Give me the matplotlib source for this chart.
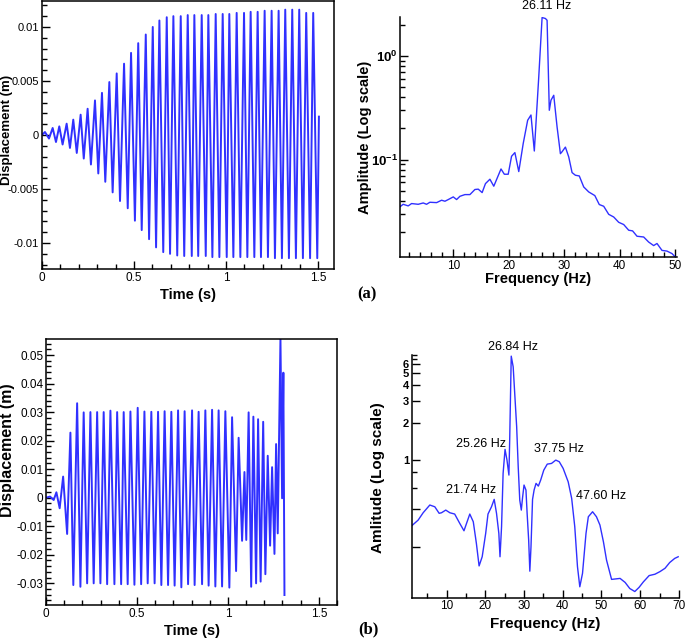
import numpy as np
import matplotlib
matplotlib.use('Agg')
import matplotlib.pyplot as plt
from matplotlib.ticker import FixedLocator, FixedFormatter, NullFormatter, MultipleLocator

plt.rcParams['font.family'] = ['Liberation Sans', 'DejaVu Sans']
plt.rcParams['axes.unicode_minus'] = False
plt.rcParams['mathtext.fontset'] = 'custom'
plt.rcParams['mathtext.rm'] = 'Liberation Sans'
plt.rcParams['mathtext.bf'] = 'Liberation Sans:bold'

line_col = '#3030ff'

# (a) displacement history: peaks and troughs
a_peak_t = [0.016, 0.058, 0.094, 0.134, 0.170, 0.210, 0.248, 0.288, 0.326, 0.366,
            0.406, 0.446, 0.484, 0.523, 0.564, 0.602, 0.638, 0.678, 0.714, 0.754,
            0.792, 0.828, 0.868, 0.904, 0.944, 0.982, 1.018, 1.058, 1.098, 1.134,
            1.172, 1.210, 1.248, 1.286, 1.322, 1.360, 1.398, 1.436, 1.474]
a_peak_v = [0.00028, 0.00065, 0.0008, 0.00105, 0.00142, 0.00188, 0.00243, 0.0032, 0.0039, 0.0049,
            0.0057, 0.0066, 0.0076, 0.0085, 0.0093, 0.0100, 0.0106, 0.0109, 0.0110, 0.0110,
            0.0111, 0.0111, 0.0111, 0.0111, 0.0112, 0.0112, 0.0112, 0.0113, 0.0113, 0.0114,
            0.0114, 0.0115, 0.0115, 0.0115, 0.0116, 0.0116, 0.0116, 0.0113, 0.0113]
a_trough_t = [0.038, 0.076, 0.112, 0.152, 0.189, 0.227, 0.266, 0.306, 0.344, 0.384,
              0.424, 0.466, 0.505, 0.542, 0.582, 0.620, 0.659, 0.696, 0.735, 0.773,
              0.814, 0.849, 0.890, 0.926, 0.964, 1.004, 1.040, 1.078, 1.116, 1.154,
              1.190, 1.228, 1.266, 1.304, 1.342, 1.380, 1.418, 1.457, 1.496]
a_trough_v = [-0.00033, -0.00065, -0.00088, -0.0012, -0.00166, -0.00218, -0.00273, -0.00356, -0.00433, -0.00531,
              -0.00611, -0.00678, -0.00793, -0.0088, -0.00964, -0.0104, -0.01084, -0.0110, -0.01115, -0.0112,
              -0.0112, -0.0112, -0.0112, -0.0113, -0.0113, -0.0113, -0.0113, -0.0113, -0.0113, -0.0113,
              -0.0113, -0.0113, -0.0114, -0.0114, -0.0114, -0.0114, -0.0114, -0.0114, -0.0114]
a_ends_t = [0.0, 1.505]
a_ends_v = [0.0, 0.0017]

# (a) FFT amplitude
fa = [0.38, 0.97, 1.88, 2.49, 3.68, 4.59, 5.19, 5.79, 7.0, 7.9,
      8.5, 9.1, 10.0, 10.6, 11.2, 12.1, 13.0, 13.9, 14.5, 15.2,
      15.8, 16.6, 17.3, 18.6, 19.2, 19.9, 20.5, 21.1, 21.8, 22.6,
      23.4, 24.0, 24.6, 25.4, 26.0, 26.6, 26.9, 27.3, 27.6, 28.1,
      28.7, 29.3, 29.6, 30.2, 30.8, 31.4, 32.0, 32.7, 33.5, 34.4,
      35.5, 36.3, 37.1, 38.0, 38.9, 39.8, 40.7, 41.6, 42.3, 43.1,
      44.3, 45.2, 46.1, 46.7, 47.6, 48.5, 49.4, 50.0]
amp_a = [0.0348, 0.0369, 0.0356, 0.0375, 0.0369, 0.0380, 0.0369, 0.0386, 0.0383, 0.0404,
         0.0395, 0.0410, 0.0435, 0.0410, 0.0441, 0.0458, 0.0458, 0.0513, 0.0517, 0.0479,
         0.0585, 0.0645, 0.0552, 0.0811, 0.0721, 0.0721, 0.1076, 0.1168, 0.0765, 0.143,
         0.240, 0.270, 0.121, 0.631, 2.37, 2.32, 2.23, 0.300, 0.375, 0.419,
         0.207, 0.114, 0.119, 0.132, 0.106, 0.0748, 0.0705, 0.0694, 0.0543, 0.0486,
         0.0448, 0.0367, 0.0353, 0.0295, 0.0278, 0.0247, 0.0235, 0.0207, 0.0204, 0.0181,
         0.0178, 0.0159, 0.0147, 0.0154, 0.0132, 0.0130, 0.0123, 0.0114]

# (b) displacement history: extrema in order
b_t = [0.0, 0.022, 0.042, 0.057, 0.075, 0.094, 0.116, 0.134, 0.150, 0.171,
       0.189, 0.207, 0.226, 0.244, 0.262, 0.281, 0.299, 0.317, 0.336, 0.354,
       0.376, 0.391, 0.413, 0.427, 0.449, 0.464, 0.486, 0.504, 0.523, 0.541,
       0.559, 0.579, 0.597, 0.616, 0.634, 0.652, 0.671, 0.689, 0.707, 0.726,
       0.744, 0.762, 0.781, 0.803, 0.817, 0.839, 0.858, 0.876, 0.894, 0.913,
       0.931, 0.949, 0.968, 0.986, 1.008, 1.023, 1.045, 1.059, 1.078, 1.091,
       1.101, 1.114, 1.128, 1.140, 1.155, 1.166, 1.180, 1.194, 1.206, 1.219,
       1.232, 1.243, 1.256, 1.265, 1.274, 1.289, 1.298, 1.305, 1.311]
b_v = [0.0, 0.0004, -0.0008, 0.0019, -0.0037, 0.0074, -0.0127, 0.0228, -0.0306, 0.0331,
       -0.0312, 0.0299, -0.030, 0.030, -0.030, 0.030, -0.030, 0.030, -0.0303, 0.0305,
       -0.0303, 0.030, -0.0303, 0.030, -0.0303, 0.0302, -0.0305, 0.0315, -0.0303, 0.0302,
       -0.030, 0.0301, -0.030, 0.0301, -0.0306, 0.0303, -0.0306, 0.0301, -0.0308, 0.0306,
       -0.0314, 0.0303, -0.0303, 0.0306, -0.0306, 0.0301, -0.0303, 0.0306, -0.0308, 0.0308,
       -0.0311, 0.0306, -0.0311, 0.0303, -0.0315, 0.0282, -0.0257, 0.021, -0.0151, 0.009,
       -0.0148, 0.0299, -0.0312, 0.0284, -0.030, 0.0275, -0.0294, 0.0266, -0.0268, 0.0147,
       -0.0168, 0.0107, -0.0197, 0.0188, -0.0125, 0.0559, -0.0002, 0.0438, -0.0341]

# (b) FFT amplitude
fb = [0.95, 2.67, 3.96, 5.68, 6.97, 8.09, 8.7, 9.8, 10.85, 12.1,
      13.4, 14.5, 16.0, 16.9, 17.7, 18.4, 19.2, 20.1, 20.7, 21.6,
      22.3, 22.9, 23.5, 23.8, 24.2, 24.6, 25.1, 25.6, 26.1, 26.3,
      26.7, 27.2, 27.6, 28.1, 28.5, 28.9, 29.3, 29.6, 30.0, 30.5,
      30.8, 31.2, 31.5, 31.8, 32.2, 32.6, 33.1, 33.7, 34.3, 35.1,
      36.0, 37.1, 38.2, 39.1, 40.1, 41.4, 42.3, 43.1, 43.8, 44.4,
      45.1, 46.0, 46.6, 47.7, 48.7, 49.6, 50.5, 51.3, 52.6, 53.7,
      54.8, 56.1, 57.3, 58.6, 59.7, 60.8, 62.3, 63.8, 65.1, 66.4,
      67.6, 68.9, 69.8]
amp_b = [0.294, 0.328, 0.376, 0.434, 0.420, 0.372, 0.376, 0.395, 0.376, 0.367,
         0.309, 0.269, 0.367, 0.318, 0.213, 0.140, 0.166, 0.256, 0.367, 0.420,
         0.482, 0.372, 0.256, 0.166, 0.290, 0.781, 1.22, 1.0, 0.757, 1.45,
         6.90, 5.66, 3.45, 1.86, 0.883, 0.476, 0.395, 0.491, 0.629, 0.573,
         0.372, 0.226, 0.127, 0.200, 0.482, 0.573, 0.649, 0.617, 0.690, 0.830,
         0.928, 0.940, 1.0, 0.970, 0.857, 0.668, 0.491, 0.290, 0.138, 0.095,
         0.122, 0.256, 0.349, 0.383, 0.349, 0.299, 0.219, 0.156, 0.109, 0.110,
         0.111, 0.103, 0.092, 0.087, 0.094, 0.104, 0.117, 0.120, 0.126, 0.134,
         0.149, 0.161, 0.166]

# peak labels (text, freq, amplitude position)
peaks_a = [('26.11 Hz', 26.9, 3.05)]
peaks_b = [('26.84 Hz', 27.2, 8.15), ('25.26 Hz', 19.0, 1.36), ('37.75 Hz', 39.1, 1.24),
           ('21.74 Hz', 16.4, 0.573), ('47.60 Hz', 50.0, 0.513)]

fig = plt.figure(figsize=(6.85, 6.38), dpi=100)

ax1 = fig.add_axes([0.0613, 0.5784, 0.4263, 0.4200])
ax2 = fig.add_axes([0.5839, 0.5972, 0.4044, 0.3762])
ax3 = fig.add_axes([0.0672, 0.0517, 0.4248, 0.4169])
ax4 = fig.add_axes([0.6010, 0.0632, 0.3902, 0.3804])


def style(ax, box=True):
    ax.tick_params(which='both', direction='in', top=False, right=False,
                   labelsize=8.5, pad=2, width=1)
    ax.tick_params(which='major', length=6)
    ax.tick_params(which='minor', length=3.5)
    for s in ax.spines.values():
        s.set_linewidth(1.1)
    if not box:
        ax.spines['top'].set_visible(False)
        ax.spines['right'].set_visible(False)


# --- (a) time history
t_all = np.array(a_peak_t + a_trough_t + a_ends_t)
v_all = np.array(a_peak_v + a_trough_v + a_ends_v)
order = np.argsort(t_all)
ax1.plot(t_all[order], v_all[order], color=line_col, lw=1.4)
ax1.set_xlim(0, 1.587)
ax1.set_ylim(-0.0124, 0.0124)
ax1.xaxis.set_major_locator(FixedLocator([0, 0.5, 1, 1.5]))
ax1.xaxis.set_major_formatter(FixedFormatter(['0', '0.5', '1', '1.5']))
ax1.xaxis.set_minor_locator(MultipleLocator(0.1))
ax1.yaxis.set_major_locator(FixedLocator([-0.01, -0.005, 0, 0.005, 0.01]))
ax1.yaxis.set_major_formatter(FixedFormatter(['-0.01', '-0.005', '0', '0.005', '0.01']))
ax1.yaxis.set_minor_locator(MultipleLocator(0.001))
style(ax1)
ax1.tick_params(axis='y', which='major', labelsize=8)
ax1.set_xlabel('Time (s)', fontsize=10.5, fontweight='bold', labelpad=3)
ax1.set_ylabel('Displacement (m)', fontsize=9.5, fontweight='bold')
ax1.yaxis.set_label_coords(-0.098, 0.52)

# --- (a) FFT
ax2.plot(fa, amp_a, color=line_col, lw=1.0)
ax2.set_yscale('log')
ax2.set_xlim(0.4, 50.3)
ax2.set_ylim(0.0114, 2.4)
ax2.xaxis.set_major_locator(FixedLocator([10, 20, 30, 40, 50]))
ax2.xaxis.set_minor_locator(MultipleLocator(2))
ax2.yaxis.set_major_locator(FixedLocator([0.1, 1]))
ax2.yaxis.set_major_formatter(FixedFormatter([r'$\mathbf{10^{-1}}$', r'$\mathbf{10^{0}}$']))
ax2.yaxis.set_minor_locator(FixedLocator([k * 10.0 ** e for e in (-2, -1, 0) for k in range(2, 10)]))
ax2.yaxis.set_minor_formatter(NullFormatter())
style(ax2, box=False)
ax2.tick_params(axis='y', which='major', labelsize=9.5, pad=1.5)
ax2.set_xlabel('Frequency (Hz)', fontsize=10.5, fontweight='bold', labelpad=0)
ax2.set_ylabel('Amplitude (Log scale)', fontsize=10.5, fontweight='bold')
ax2.yaxis.set_label_coords(-0.1, 0.5)
for txt, f, a in peaks_a:
    ax2.text(f, a, txt, fontsize=9, ha='center', va='center', clip_on=False)

# --- (b) time history
ax3.plot(b_t, b_v, color=line_col, lw=1.4)
ax3.set_xlim(0, 1.6)
ax3.set_ylim(-0.0376, 0.0556)
ax3.xaxis.set_major_locator(FixedLocator([0, 0.5, 1, 1.5]))
ax3.xaxis.set_major_formatter(FixedFormatter(['0', '0.5', '1', '1.5']))
ax3.xaxis.set_minor_locator(MultipleLocator(0.1))
yt = [-0.03, -0.02, -0.01, 0, 0.01, 0.02, 0.03, 0.04, 0.05]
ax3.yaxis.set_major_locator(FixedLocator(yt))
ax3.yaxis.set_major_formatter(FixedFormatter(['-0.03', '-0.02', '-0.01', '0', '0.01', '0.02', '0.03', '0.04', '0.05']))
ax3.yaxis.set_minor_locator(MultipleLocator(0.002))
style(ax3)
ax3.set_xlabel('Time (s)', fontsize=10.5, fontweight='bold', labelpad=3)
ax3.set_ylabel('Displacement (m)', fontsize=11.5, fontweight='bold')
ax3.yaxis.set_label_coords(-0.105, 0.583)

# --- (b) FFT
ax4.plot(fb, amp_b, color=line_col, lw=1.0)
ax4.set_yscale('log')
ax4.set_xlim(1, 70)
ax4.set_ylim(0.0776, 7.05)
ax4.xaxis.set_major_locator(FixedLocator([10, 20, 30, 40, 50, 60, 70]))
ax4.xaxis.set_minor_locator(MultipleLocator(5))
ax4.yaxis.set_major_locator(FixedLocator([0.2, 0.4, 1, 2, 3, 4, 5, 6]))
ax4.yaxis.set_major_formatter(FixedFormatter(['', '', '1', '2', '3', '4', '5', '6']))
ax4.yaxis.set_minor_locator(FixedLocator([0.6, 0.8, 6.5, 7]))
ax4.yaxis.set_minor_formatter(NullFormatter())
style(ax4, box=False)
ax4.tick_params(axis='y', which='major', labelsize=8)
for lab in ax4.get_yticklabels():
    lab.set_fontweight('bold')
ax4.set_xlabel('Frequency (Hz)', fontsize=11, fontweight='bold', labelpad=3)
ax4.set_ylabel('Amlitude (Log scale)', fontsize=11, fontweight='bold')
ax4.yaxis.set_label_coords(-0.1, 0.493)
for txt, f, a in peaks_b:
    ax4.text(f, a, txt, fontsize=9, ha='center', va='center', clip_on=False)

fig.text(367 / 685, 1 - 294 / 638, '(a)', fontsize=12, fontweight='bold',
         family='Liberation Serif', ha='center', va='center')
fig.text(368 / 685, 1 - 629 / 638, '(b)', fontsize=12, fontweight='bold',
         family='Liberation Serif', ha='center', va='center')

fig.savefig('out.png', dpi=100)
